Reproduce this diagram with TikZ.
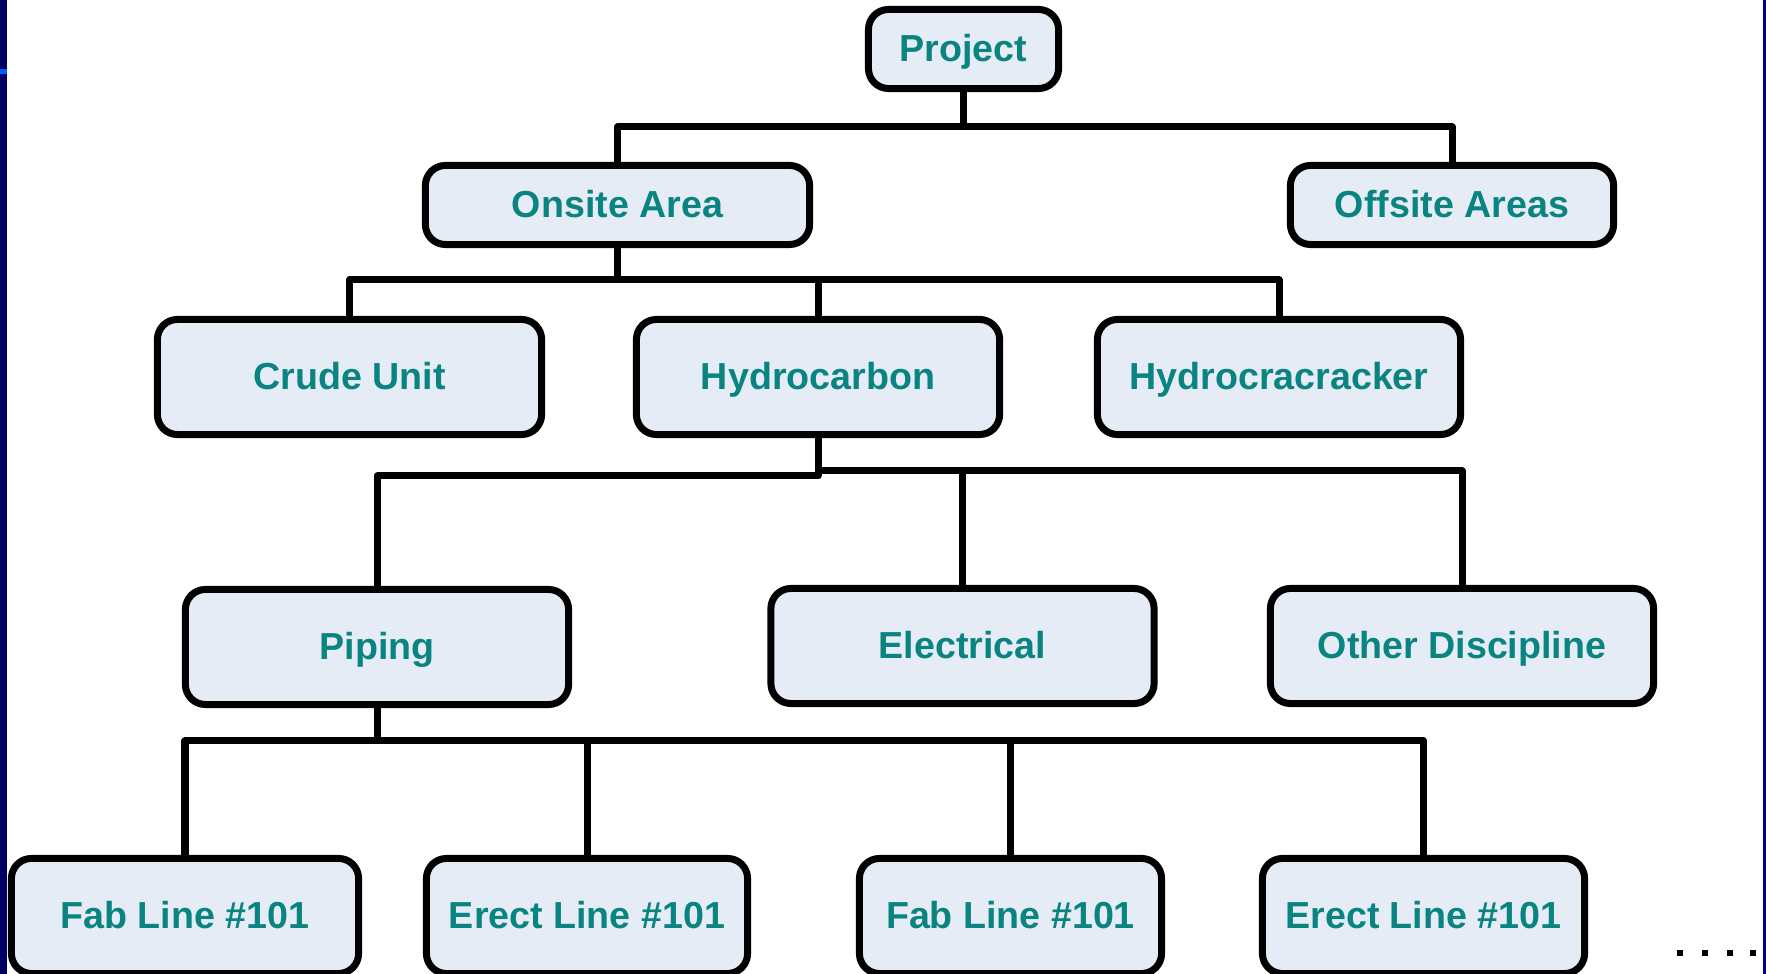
\documentclass[tikz,border=0pt]{standalone}
\usepackage{fontspec}
\setmainfont{Liberation Sans}
\definecolor{boxfill}{RGB}{230,236,246}
\definecolor{boxtext}{RGB}{10,132,128}
\definecolor{navybar}{RGB}{0,0,102}
\definecolor{tickblue}{RGB}{0,90,255}
\definecolor{rightbar}{RGB}{0,0,140}
\tikzset{
  wbsbox/.style={draw=black, line width=0.07cm, fill=boxfill, rounded corners=0.2cm,
    inner sep=0pt, text=boxtext, font=\fontsize{10.7}{12}\selectfont\bfseries,
    text height=0.716em, text depth=0pt},
  lvA/.style={wbsbox, minimum height=0.79cm},
  lvB/.style={wbsbox, minimum height=1.15cm},
  conn/.style={draw=black, line width=0.07cm, line join=round}
}
\begin{document}
\begin{tikzpicture}[x=0.01cm, y=-0.01cm]
\useasboundingbox (0,0) rectangle (1766,974);
\clip (0,0) rectangle (1766,974);
\fill[white] (0,0) rectangle (1766,974);
% side bars
\fill[navybar] (0,0) rectangle (7,974);
\fill[tickblue] (0,69) rectangle (7,74);
\fill[rightbar] (1763,0) rectangle (1766,974);

% bus levels
\coordinate (b1) at (0,127);
\coordinate (b2) at (0,280);
\coordinate (b3l) at (0,476);
\coordinate (b3r) at (0,471);
\coordinate (b4) at (0,741);

% nodes
\node[lvA, minimum width=1.90cm] (proj) at (963.5,49) {Project};
\node[lvA, minimum width=3.84cm] (onsite) at (617.5,205) {Onsite Area};
\node[lvA, minimum width=3.23cm] (offsite) at (1452,205) {Offsite Areas};

\node[lvB, minimum width=3.84cm] (crude) at (349.5,377) {Crude Unit};
\node[lvB, minimum width=3.63cm] (hc) at (818,377) {Hydrocarbon};
\node[lvB, minimum width=3.63cm] (hcr) at (1279,377) {Hydrocracracker};

\node[lvB, minimum width=3.83cm] (piping) at (377,647) {Piping};
\node[lvB, minimum width=3.83cm] (elec) at (962.5,646) {Electrical};
\node[lvB, minimum width=3.83cm] (other) at (1462,646) {Other Discipline};

\node[lvB, minimum width=3.47cm] (fab1) at (185,916) {Fab Line \#101};
\node[lvB, minimum width=3.21cm] (erect1) at (587,916) {Erect Line \#101};
\node[lvB, minimum width=3.02cm] (fab2) at (1010.5,916) {Fab Line \#101};
\node[lvB, minimum width=3.22cm] (erect2) at (1423.5,916) {Erect Line \#101};

% connectors
\draw[conn] (proj.south) -- (proj.south |- b1);
\draw[conn] (onsite.north) |- (proj.south |- b1) -| (offsite.north);

\draw[conn] (onsite.south) -- (onsite.south |- b2);
\draw[conn] (crude.north) |- (onsite.south |- b2) -| (hcr.north);
\draw[conn] (hc.north) -- (hc.north |- b2);

\draw[conn] (hc.south) -- (hc.south |- b3l) -| (piping.north);
\draw[conn] (hc.south |- b3r) -| (other.north);
\draw[conn] (elec.north) -- (elec.north |- b3r);

\draw[conn] (piping.south) -- (piping.south |- b4);
\draw[conn] (fab1.north) |- (piping.south |- b4) -| (erect2.north);
\draw[conn] (erect1.north) -- (erect1.north |- b4);
\draw[conn] (fab2.north) -- (fab2.north |- b4);

% trailing dots
\foreach \dx in {1680,1705,1730,1753}
  \fill[black] (\dx-3,950) rectangle (\dx+3,956);
\end{tikzpicture}
\end{document}
